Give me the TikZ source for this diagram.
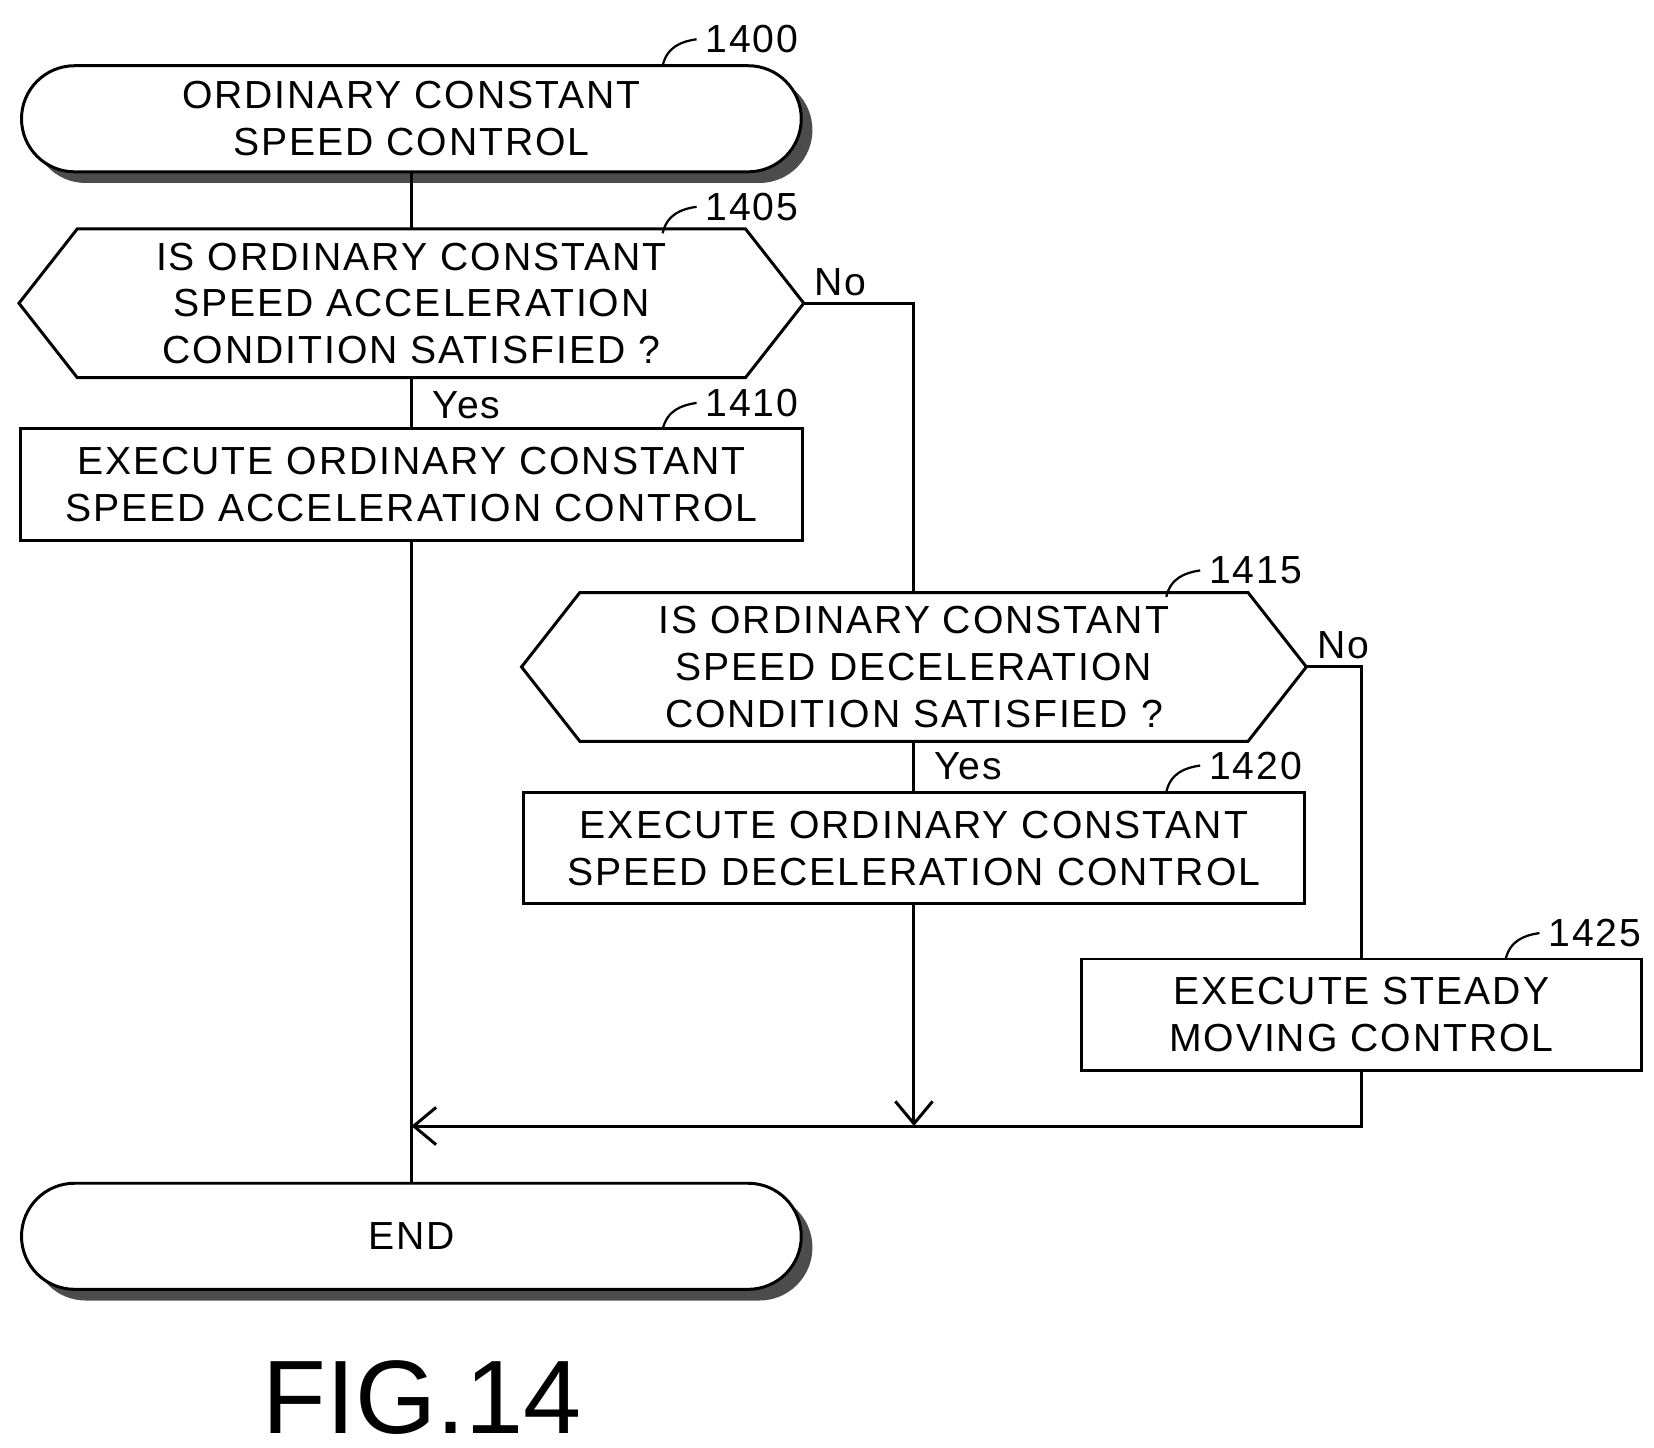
\documentclass[tikz,border=0pt]{standalone}
\usepackage{fontspec}
\setmainfont{Liberation Sans}[LetterSpace=5]
\usetikzlibrary{arrows.meta,calc,positioning,shadows}

\begin{document}
\begin{tikzpicture}[x=0.01cm,y=-0.01cm,
		line width=0.8pt,
		every node/.style={font=\fontsize{10.5}{12.5}\selectfont},
		term/.style  = {draw, fill=white, rounded corners=0.5cm, minimum width=7.35cm, minimum height=1.0cm,
			align=center, drop shadow={shadow xshift=3pt, shadow yshift=-3pt, fill=black!70, opacity=1}},
		proc/.style  = {draw, minimum width=7.37cm, minimum height=1.05cm, inner sep=2pt, align=center},
		cond/.style  = {minimum width=7.37cm, minimum height=1.32cm, align=center},
		tag/.style   = {anchor=west, inner sep=2pt},
		yn/.style    = {inner sep=1pt},
		>={Straight Barb[length=6pt,width=10pt]}]
		
	\useasboundingbox (0,0) rectangle (1560,1365);
	
	% flow nodes
	\node[term] (t1400) at (388,112) {ORDINARY CONSTANT\\SPEED CONTROL};
	\node[cond] (c1405) at (388,286) {IS ORDINARY CONSTANT\\SPEED ACCELERATION\\CONDITION SATISFIED ?};
	\node[proc] (s1410) at (388,457) {EXECUTE ORDINARY CONSTANT\\SPEED ACCELERATION CONTROL};
	\node[cond] (c1415) at (862,629) {IS ORDINARY CONSTANT\\SPEED DECELERATION\\CONDITION SATISFIED ?};
	\node[proc] (s1420) at (862,800) {EXECUTE ORDINARY CONSTANT\\SPEED DECELERATION CONTROL};
	\node[proc, minimum width=5.28cm] (s1425) at (1284,957) {EXECUTE STEADY\\MOVING CONTROL};
	\node[term] (tend) at (388,1166) {END};
	\node[font=\fontsize{28}{30}\selectfont\addfontfeature{LetterSpace=0}] (fig) at (398,1318) {FIG.14};
	
	% hexagon outlines
	\foreach \c in {c1405,c1415}
	\draw (\c.west) -- ($(\c.north west)+(55,0)$) -- ($(\c.north east)+(-55,0)$) -- (\c.east)
		-- ($(\c.south east)+(-55,0)$) -- ($(\c.south west)+(55,0)$) -- cycle;
	
	% connectors
	\coordinate (m1) at (862,1062);
	\coordinate (m2) at (1284,1062);
	\draw (t1400) -- (c1405);
	\draw (c1405) -- (s1410);
	\draw (s1410) -- (tend);
	\draw (c1405.east) -| (c1415.north);
	\draw (c1415) -- (s1420);
	\draw[->] (s1420) -- (m1);
	\draw (c1415.east) -| (s1425.north);
	\draw[->] (s1425.south) |- (s1410.south |- m2);
	
	% yes / no labels
	\node[yn] (no1) at (793,266) {No};
	\node[yn] (yes1) at (440,382) {Yes};
	\node[yn] (no2) at (1267,609) {No};
	\node[yn] (yes2) at (913,723) {Yes};
	
	% step numbers with leaders
	\foreach \n/\x/\y in {t1400/625/62, c1405/625/220, s1410/625/405, c1415/1100/563, s1420/1100/747, s1425/1420/905}{
		\coordinate (a\n) at (\x,\y);
		\coordinate (b\n) at (\x+32,\y-25);
		\draw[line width=0.6pt] (a\n) .. controls ($(a\n)+(4,-18)$) and ($(b\n)+(-14,2)$) .. (b\n);
	}
	\node[tag] (n1400) at (bt1400) {1400};
	\node[tag] (n1405) at (bc1405) {1405};
	\node[tag] (n1410) at (bs1410) {1410};
	\node[tag] (n1415) at (bc1415) {1415};
	\node[tag] (n1420) at (bs1420) {1420};
	\node[tag] (n1425) at (bs1425) {1425};
\end{tikzpicture}
\end{document}
